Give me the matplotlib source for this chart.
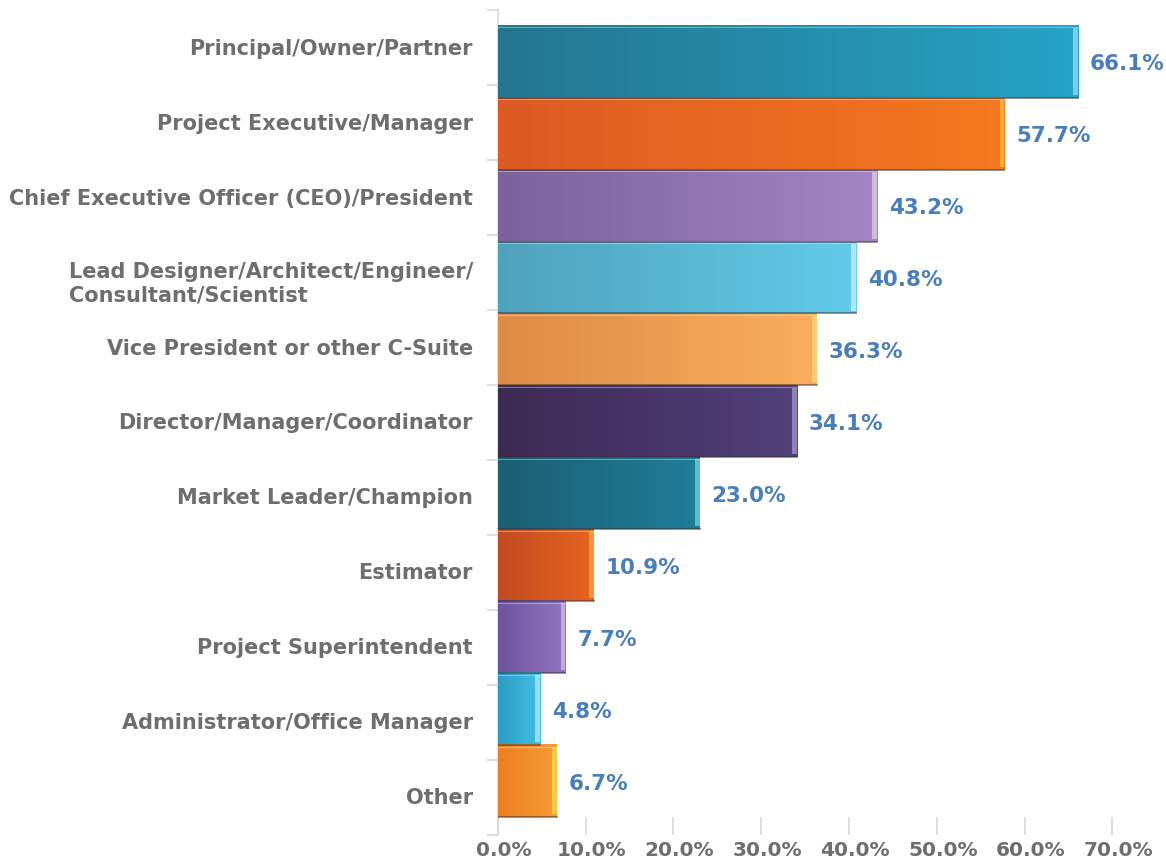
import numpy as np
import matplotlib.pyplot as plt
from matplotlib.colors import LinearSegmentedColormap
import matplotlib.transforms as mtrans

categories = ["Principal/Owner/Partner", "Project Executive/Manager",
              "Chief Executive Officer (CEO)/President",
              "Lead Designer/Architect/Engineer/\nConsultant/Scientist",
              "Vice President or other C-Suite", "Director/Manager/Coordinator",
              "Market Leader/Champion", "Estimator", "Project Superintendent",
              "Administrator/Office Manager", "Other"]
values = [66.1, 57.7, 43.2, 40.8, 36.3, 34.1, 23.0, 10.9, 7.7, 4.8, 6.7]
xticks = [0, 10, 20, 30, 40, 50, 60, 70]

# left (dark) / right (light) / end cap colours per bar
shades = [("#24768f", "#27a3c6", "#8fd3e6"),
          ("#dc5a24", "#f4791f", "#ffb23a"),
          ("#7a629c", "#a385c4", "#d7c6e6"),
          ("#4fa2bb", "#62cbe9", "#bfeaf6"),
          ("#de8b46", "#f9ae5e", "#fcd27a"),
          ("#3b2a52", "#52407a", "#9b8cc0"),
          ("#1b5f72", "#1f7d98", "#6fc6dc"),
          ("#c14b22", "#e8641f", "#ff9c3d"),
          ("#6e53a0", "#9275bd", "#c9b6e0"),
          ("#2c9cc4", "#45bfe3", "#a7e2f3"),
          ("#ec7f22", "#f79b36", "#ffd24a")]

grey = "#6d6e71"
blue = "#4a7ebb"
fnt = "DejaVu Sans"

fig = plt.figure(figsize=(11.66, 8.64), dpi=100)
ax = fig.add_axes([0.427, 0.034, 0.527, 0.954])

n = len(values)
ypos = np.arange(n)
# bars sit slightly off the category slots (3D look)
bpos = ypos + 0.18 - 0.04 * ypos
h = 0.97

for i, (v, sh) in enumerate(zip(values, shades)):
    bar = ax.barh(bpos[i], v, height=h, color=sh[1], edgecolor="none", zorder=2)[0]
    cmap = LinearSegmentedColormap.from_list("g%d" % i, [sh[0], sh[1]])
    grad = np.linspace(0, 1, 256).reshape(1, -1)
    im = ax.imshow(grad, cmap=cmap, aspect="auto", zorder=3,
                   extent=[0, v, bpos[i] + h / 2, bpos[i] - h / 2])
    im.set_clip_path(bar)
    # end cap
    cw = 0.55
    ax.barh(bpos[i], cw, left=v - cw, height=h * 0.92, color=sh[2],
            edgecolor="none", zorder=4, alpha=0.85)
    # dark bottom edge, light top line
    ax.plot([0, v], [bpos[i] + h / 2, bpos[i] + h / 2], color="#3a3030",
            lw=1.2, alpha=0.6, zorder=5)
    ax.plot([0, v], [bpos[i] - h / 2 + 0.03, bpos[i] - h / 2 + 0.03],
            color="white", lw=0.8, alpha=0.35, zorder=5)
    ax.text(v + 1.35, bpos[i] + 0.04, "%.1f%%" % v, va="center", ha="left",
            color=blue, fontsize=15.5, fontweight="bold", family=fnt)

ax.set_xlim(0, 70)
ax.set_ylim(n - 0.5, -0.5)

# category labels as text so the two-line one can sit a bit lower
ytr = mtrans.blended_transform_factory(ax.transAxes, ax.transData)
for i, lab in enumerate(categories):
    dy = -10 if "\n" in lab else 0
    off = mtrans.ScaledTranslation(-25 / 100, (dy - 1) / 100, fig.dpi_scale_trans)
    ax.text(0, i, lab, transform=ytr + off, ha="right", va="center",
            multialignment="left", linespacing=1.2, fontsize=15,
            fontweight="bold", color=grey, family=fnt)
ax.set_yticks(np.arange(n + 1) - 0.5)
ax.set_yticklabels([])
ax.tick_params(axis="y", length=8, color="#d9d9d9", width=1.2)

ax.set_xticks(xticks)
ax.set_xticklabels([])
ax.tick_params(axis="x", direction="in", length=13, color="#d9d9d9", width=1.2)
xtr = mtrans.blended_transform_factory(ax.transData, ax.transAxes)
for t in xticks:
    off = mtrans.ScaledTranslation(6 / 100, -6 / 100, fig.dpi_scale_trans)
    ax.text(t, 0, "%.1f%%" % t, transform=xtr + off, ha="center", va="top",
            fontsize=14.5, fontweight="bold", color=grey, family=fnt)

for s in ["top", "right", "bottom"]:
    ax.spines[s].set_visible(False)
ax.spines["left"].set_color("#d9d9d9")
ax.spines["left"].set_linewidth(1.2)
ax.set_facecolor("none")

fig.savefig("out.png", dpi=100)
